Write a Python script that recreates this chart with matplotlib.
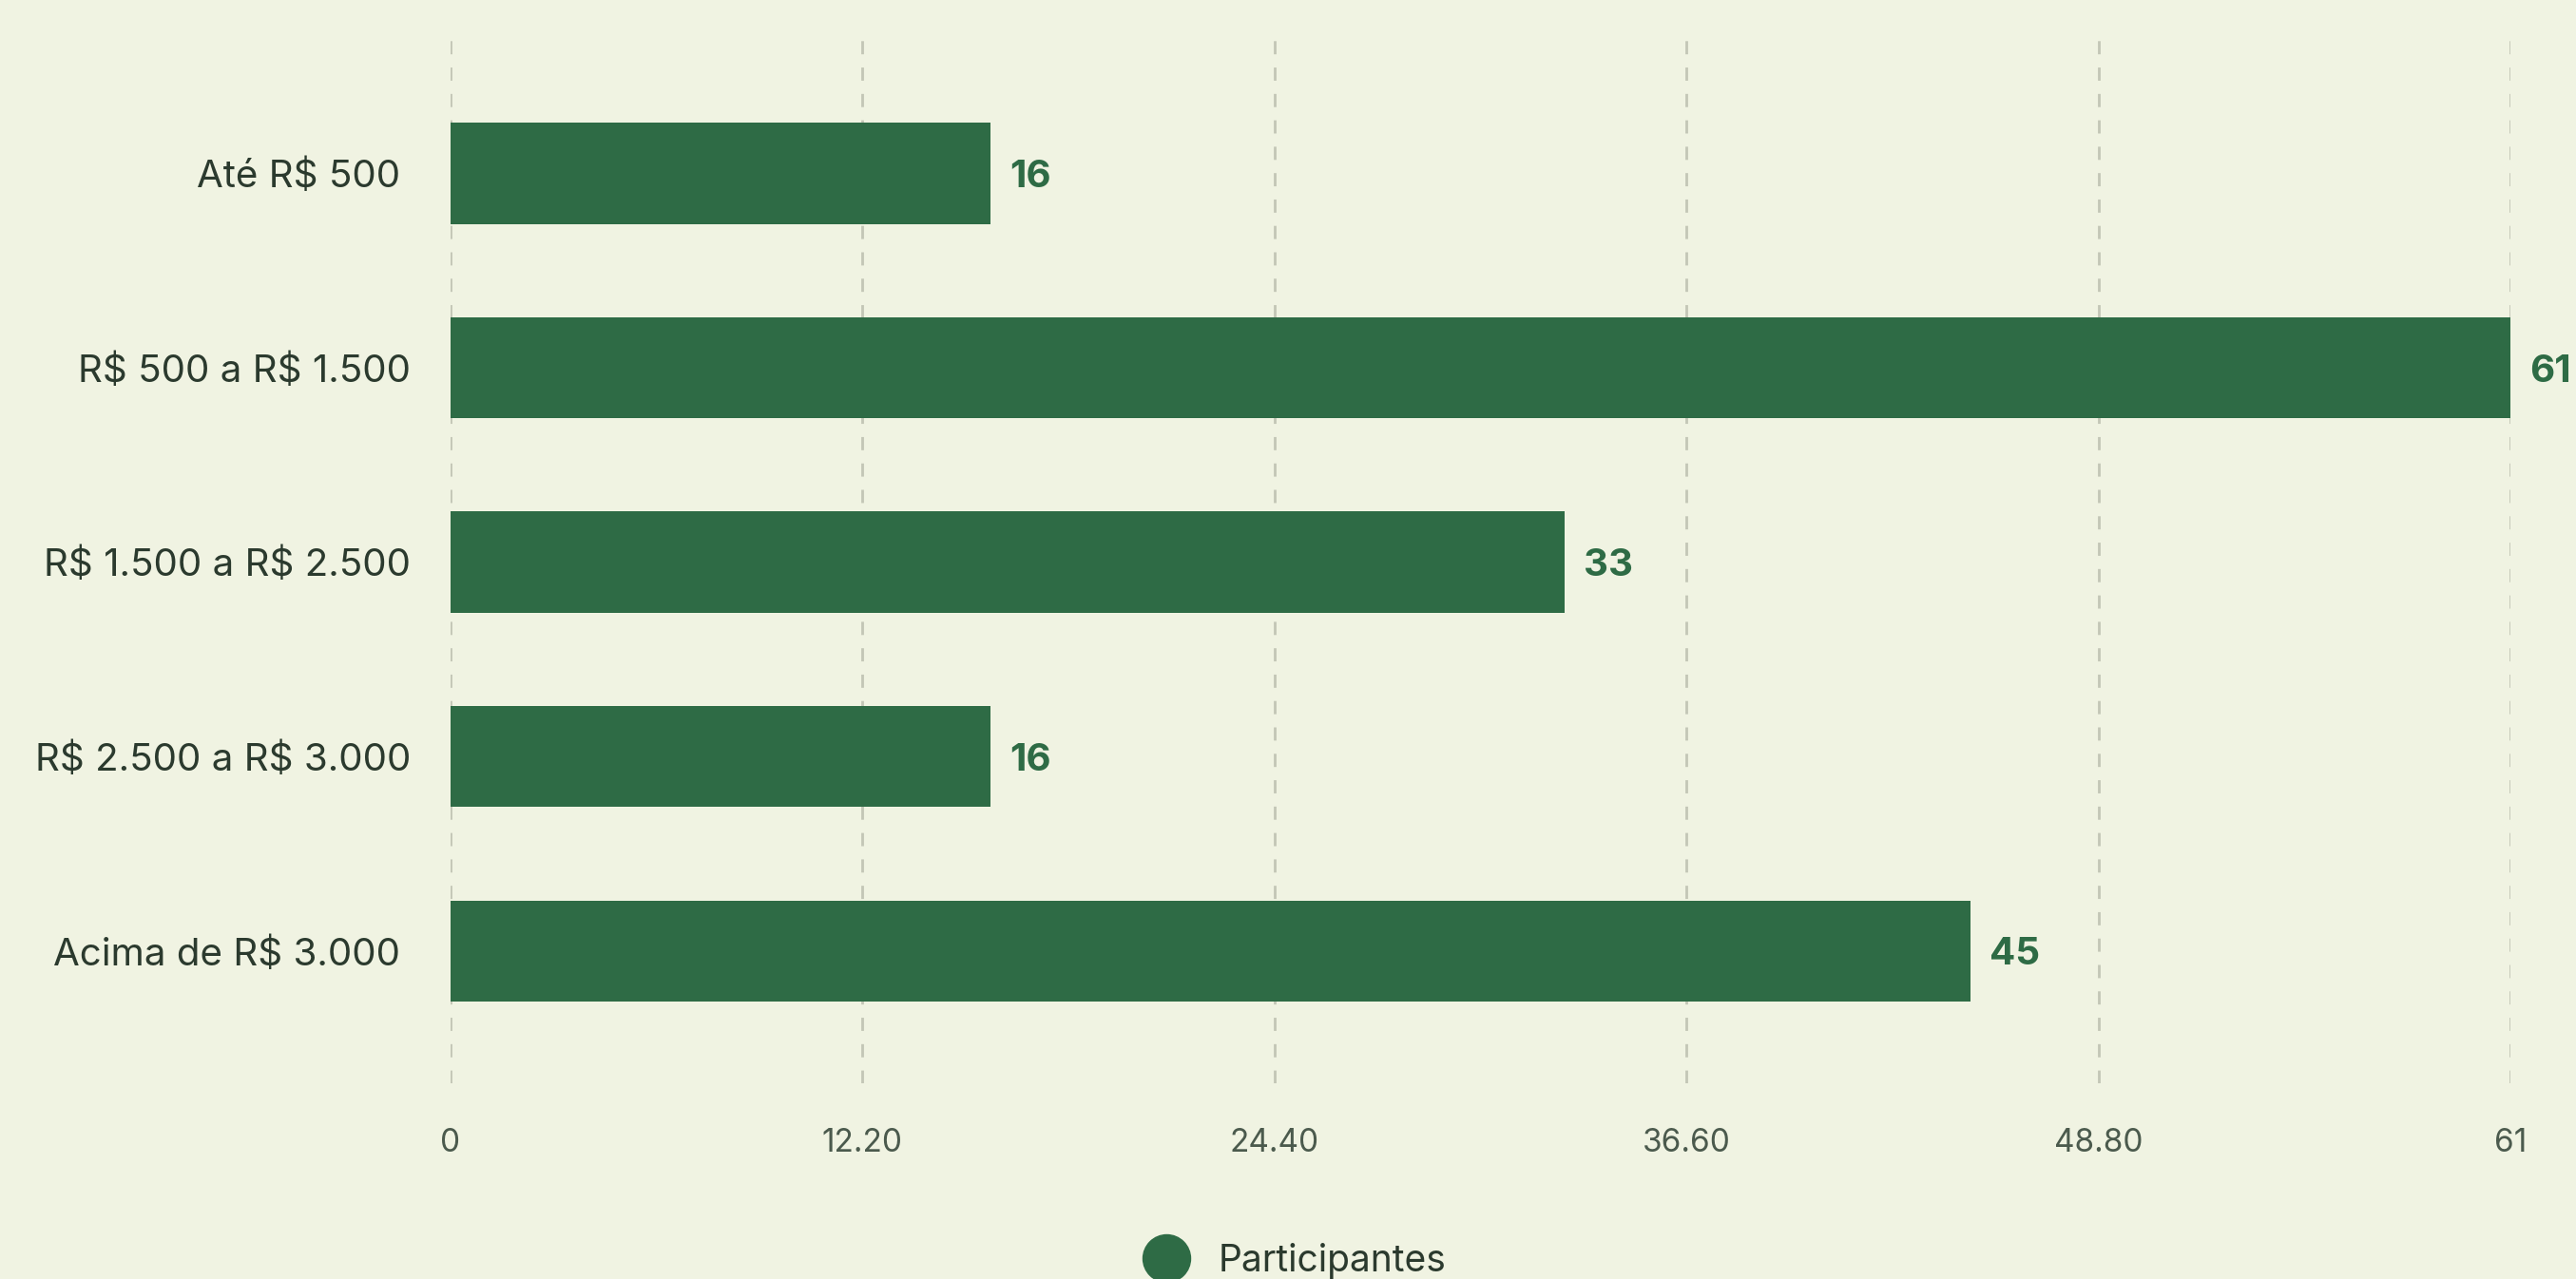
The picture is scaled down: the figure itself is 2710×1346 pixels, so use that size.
import matplotlib.pyplot as plt
import numpy as np

categories = ['Até R$ 500 ', 'R$ 500 a R$ 1.500', 'R$ 1.500 a R$ 2.500',
              'R$ 2.500 a R$ 3.000', 'Acima de R$ 3.000 ']
participantes = [16, 61, 33, 16, 45]
xticks = [0, 12.2, 24.4, 36.6, 48.8, 61]
xtick_labels = ['0', '12.20', '24.40', '36.60', '48.80', '61']

bg = '#f0f3e2'
green = '#2e6b45'
text_dark = '#2b3a2e'
text_tick = '#4b5a4d'
grid_col = '#c3c6b6'

plt.rcParams['font.family'] = ['Inter', 'DejaVu Sans']
plt.rcParams['text.parse_math'] = False

fig = plt.figure(figsize=(27.1, 13.46), dpi=100, facecolor=bg)
ax = fig.add_axes([474 / 2710, 1 - 1140 / 1346, (2641 - 474) / 2710, (1140 - 29) / 1346])
ax.set_facecolor(bg)

y = np.arange(len(categories))
ax.barh(y, participantes, height=0.52, color=green, label='Participantes', zorder=3)

for yi, v in zip(y, participantes):
    ax.annotate(str(v), xy=(v, yi), xytext=(20, 0), textcoords='offset pixels',
                va='center_baseline', ha='left', fontsize=29, fontweight='bold', color=green)

ax.set_xlim(0, 61)
ax.set_ylim(4.68, -0.75)
ax.set_yticks(y)
ax.set_yticklabels(categories, fontsize=29, color=text_dark, va='center_baseline')
ax.set_xticks(xticks)
ax.set_xticklabels(xtick_labels, fontsize=24, color=text_tick)
ax.tick_params(axis='both', length=0)
ax.tick_params(axis='y', pad=30)
ax.tick_params(axis='x', pad=34)

for s in ax.spines.values():
    s.set_visible(False)
ax.grid(axis='x', linestyle=(0, (5, 5)), color=grid_col, linewidth=2, zorder=0)
ax.set_axisbelow(True)

fig.legend(handles=[plt.Line2D([], [], marker='o', linestyle='', markersize=36,
                               color=green)],
           labels=['Participantes'], loc='lower center', bbox_to_anchor=(0.5, -0.026),
           frameon=False, fontsize=28, handletextpad=0.4, labelcolor=text_dark)

fig.savefig('out.png', dpi=100, facecolor=bg)
